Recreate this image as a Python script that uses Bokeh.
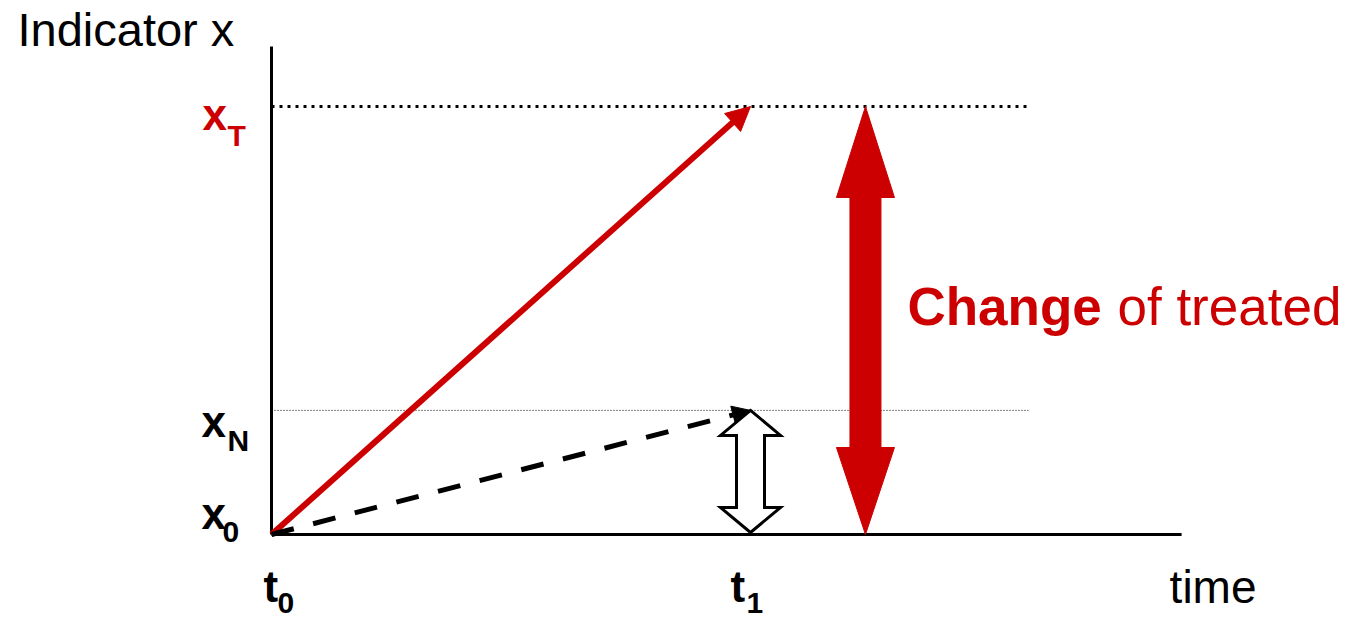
from bokeh.plotting import figure
from bokeh.models import Range1d, Arrow, NormalHead
from bokeh.core.properties import value
from bokeh.embed import file_html
from bokeh.resources import INLINE

# ---------------- data ----------------
times = [0.0, 1.0]                 # t0, t1
time_subs = ["0", "1"]
levels = [0.0, 2.9, 10.0]          # x0, xN, xT
level_subs = ["0", "N", "T"]
level_colors = ["black", "black", "#CC0000"]
axis_t_end = 1.9
axis_y_end = 11.4
guide_t_end = 1.58
change_t = 1.24
y_title = "Indicator x"
x_title = "time"
change_bold = "Change"
change_rest = "of treated"

# ---------------- layout ----------------
RED = "#CC0000"
FONT = value("Liberation Sans")
W, H = 1348, 621
PX_T, PX_Y = 479.0, 42.8          # pixels per unit
OX, OY = 271, 534                  # origin within the figure (px)
ADJ = 0.35                         # baseline correction (fraction of font size)

p = figure(width=W, height=H, output_backend="svg", toolbar_location=None,
           x_range=Range1d(-OX / PX_T, (W - OX) / PX_T),
           y_range=Range1d(-(H - OY) / PX_Y, OY / PX_Y),
           min_border=0, tools="")
p.axis.visible = False
p.grid.visible = False
p.outline_line_color = None
p.background_fill_color = "white"

t0, t1 = times
x0, xN, xT = levels


def label(x, y, txt, size, dx, dy, color="black", bold=False):
    p.text([x], [y], text=[txt], text_font=FONT, text_font_size=f"{size}px",
           text_font_style="bold" if bold else "normal", text_color=color,
           text_align="left", text_baseline="alphabetic",
           x_offset=dx, y_offset=dy - ADJ * size)


# axes
p.line([t0, t0], [x0, axis_y_end], line_color="black", line_width=3)
p.line([t0, axis_t_end], [x0, x0], line_color="black", line_width=3)

# guide lines
p.line([t0, guide_t_end], [xT, xT], line_color="black", line_width=3, line_dash="3 5")
p.line([t0, guide_t_end], [xN, xN], line_color="black", line_width=1, line_dash="1 2")

# treated arrow
p.add_layout(Arrow(end=NormalHead(size=24, fill_color=RED, line_color=RED),
                   x_start=t0, y_start=x0, x_end=t1, y_end=xT,
                   line_color=RED, line_width=6))
# non-treated dashed arrow
p.add_layout(Arrow(end=NormalHead(size=18, fill_color="black", line_color="black"),
                   x_start=t0, y_start=x0, x_end=t1, y_end=xN,
                   line_color="black", line_width=5, line_dash="23 20"))


def double_arrow(xc, y_lo, y_hi, head_hw, head_len_top, head_len_bot, shaft_hw):
    hw = head_hw / PX_T
    sw = shaft_hw / PX_T
    ht = head_len_top / PX_Y
    hb = head_len_bot / PX_Y
    xs = [xc, xc + hw, xc + sw, xc + sw, xc + hw, xc, xc - hw, xc - sw, xc - sw, xc - hw]
    ys = [y_hi, y_hi - ht, y_hi - ht, y_lo + hb, y_lo + hb, y_lo, y_lo + hb, y_lo + hb,
          y_hi - ht, y_hi - ht]
    return xs, ys


# hollow double arrow (change of non-treated)
hx, hy = double_arrow(t1, x0 + 2 / PX_Y, xN, 30, 25, 25, 14)
p.patch(hx, hy, fill_color="white", line_color="black", line_width=3, line_join="miter")

# red double arrow (change of treated)
rx, ry = double_arrow(change_t, x0, xT, 29, 91, 87, 15.5)
p.patch(rx, ry, fill_color=RED, line_color=RED, line_width=1)

# level labels
main_dx = [-70, -70, -69]
main_dy = [-6, 27, 23]
sub_dx = [-49, -44, -44]
sub_dy = [8, 41, 39]
for lv, sub, col, mdx, mdy, sdx, sdy in zip(levels, level_subs, level_colors,
                                             main_dx, main_dy, sub_dx, sub_dy):
    label(t0, lv, "x", 44, mdx, mdy, col, True)
    label(t0, lv, sub, 30, sdx, sdy, col, True)

# time labels
t_main_dx = [-8, -20]
t_sub_dx = [6, -4]
for tv, sub, mdx, sdx in zip(times, time_subs, t_main_dx, t_sub_dx):
    label(tv, x0, "t", 44, mdx, 67, "black", True)
    label(tv, x0, sub, 30, sdx, 79, "black", True)

# axis titles
label(t0, axis_y_end, y_title, 47, -254, -1)
label(axis_t_end, x0, x_title, 46, -12, 69)

# change annotation
mid = (x0 + xT) / 2
label(change_t, mid, change_bold, 53, 42, 5, RED, True)
label(change_t, mid, change_rest, 53, 252, 5, RED)

open("out.html", "w").write(file_html(p, INLINE))
